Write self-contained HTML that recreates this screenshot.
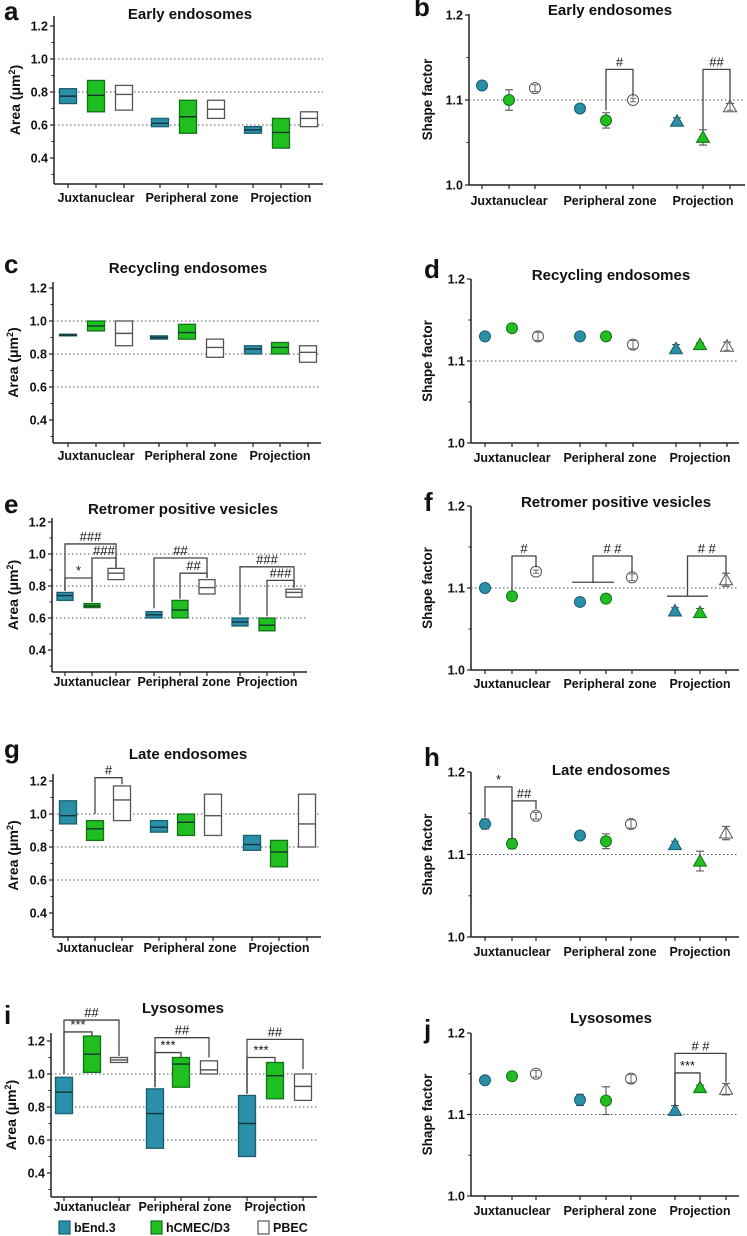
<!DOCTYPE html>
<html><head><meta charset="utf-8"><style>
html,body{margin:0;padding:0;background:#fff}
svg{display:block;font-family:"Liberation Sans",Arial,sans-serif}
</style></head><body>
<svg id="fig" width="747" height="1236" viewBox="0 0 747 1236" xmlns="http://www.w3.org/2000/svg"></svg>
<script>
const categories = ['Juxtanuclear','Peripheral zone','Projection'];
const seriesNames = ['bEnd.3','hCMEC/D3','PBEC'];
const areaTicks = [0.4,0.6,0.8,1.0,1.2];
const areaTickLabels = ['0.4','0.6','0.8','1.0','1.2'];
const shapeTicks = [1.0,1.1,1.2];
const shapeTickLabels = ['1.0','1.1','1.2'];

// Area box data (low, median, high), order: J(b,h,P), P(b,h,P), Pr(b,h,P)
const aLow = [0.73,0.68,0.69, 0.59,0.55,0.64, 0.55,0.46,0.59];
const aMed = [0.775,0.78,0.785, 0.61,0.65,0.695, 0.57,0.555,0.64];
const aHigh = [0.82,0.87,0.84, 0.64,0.75,0.75, 0.59,0.64,0.68];
const cLow = [0.91,0.94,0.85, 0.89,0.89,0.78, 0.80,0.80,0.75];
const cMed = [0.915,0.97,0.925, 0.90,0.93,0.84, 0.83,0.84,0.81];
const cHigh = [0.92,1.0,1.0, 0.91,0.98,0.89, 0.85,0.87,0.85];
const eLow = [0.71,0.665,0.84, 0.60,0.60,0.75, 0.55,0.52,0.73];
const eMed = [0.74,0.675,0.88, 0.62,0.65,0.79, 0.575,0.555,0.76];
const eHigh = [0.76,0.69,0.91, 0.64,0.71,0.84, 0.60,0.60,0.78];
const gLow = [0.94,0.84,0.96, 0.89,0.87,0.87, 0.78,0.68,0.80];
const gMed = [0.99,0.91,1.085, 0.92,0.95,0.99, 0.815,0.77,0.94];
const gHigh = [1.08,0.96,1.17, 0.96,1.0,1.12, 0.87,0.84,1.12];
const iLow = [0.76,1.01,1.07, 0.55,0.92,1.0, 0.50,0.85,0.84];
const iMed = [0.89,1.12,1.085, 0.76,1.06,1.025, 0.70,0.99,0.925];
const iHigh = [0.98,1.23,1.10, 0.91,1.10,1.08, 0.87,1.07,1.0];

// Shape factor means and errors
const bMean = [1.117,1.100,1.114, 1.090,1.076,1.100, 1.075,1.056,1.092];
const bErr = [0.003,0.012,0.004, 0.002,0.009,0.002, 0.004,0.009,0.004];
const dMean = [1.130,1.140,1.130, 1.130,1.130,1.120, 1.115,1.120,1.118];
const dErr = [0.002,0.002,0.005, 0.002,0.002,0.005, 0.005,0.002,0.005];
const fMean = [1.100,1.090,1.120, 1.083,1.087,1.113, 1.072,1.070,1.110];
const fErr = [0.002,0.002,0.002, 0.003,0.003,0.004, 0.004,0.005,0.008];
const hMean = [1.137,1.113,1.147, 1.123,1.116,1.137, 1.112,1.092,1.126];
const hErr = [0.006,0.006,0.004, 0.003,0.009,0.005, 0.004,0.012,0.008];
const jMean = [1.142,1.147,1.150, 1.118,1.117,1.144, 1.105,1.133,1.131];
const jErr = [0.003,0.003,0.004, 0.007,0.017,0.005, 0.006,0.003,0.007];

// Brackets: [fromIdx, toIdx, barValue, leftEnd, rightEnd, label]
const bBr = [[4,5,1.136,1.088,1.104,'#'],[7,8,1.136,1.065,1.097,'##']];
const eBr = [[0,2,1.063,0.77,0.91,'###'],[0,1,0.85,0.77,0.70,'*'],[1,2,0.975,0.70,0.92,'###'],
             [3,5,0.975,0.66,0.85,'##'],[4,5,0.88,0.72,0.85,'##'],
             [6,8,0.92,0.62,0.79,'###'],[7,8,0.835,0.61,0.79,'###']];
const fBr = [[1,2,1.139,1.097,1.125,'#'],[3.5,5,1.139,1.107,1.118,'# #'],[6.5,8,1.139,1.090,1.118,'# #']];
const fBase = [[3,4,1.107],[6,7,1.090]];
const gBr = [[1,2,1.22,1.0,1.18,'#']];
const hBr = [[0,1,1.182,1.145,1.12,'*'],[1,2,1.165,1.12,1.155,'##']];
const iBr = [[0,2,1.327,1.0,1.11,'##'],[0,1,1.255,1.0,1.23,'***'],
             [3,5,1.22,0.92,1.10,'##'],[3,4,1.13,0.92,1.10,'***'],
             [6,8,1.21,0.88,1.03,'##'],[6,7,1.10,0.88,1.07,'***']];
const jBr = [[6,8,1.175,1.11,1.14,'# #'],[6,7,1.151,1.11,1.138,'***']];

const svg = document.getElementById('fig');
const NS = 'http://www.w3.org/2000/svg';
const FILL = ['#2a8fa9','#1fbf1f','#ffffff'];
const STROKE = ['#1b5d6e','#16711a','#555555'];
function mk(tag, attrs, parent){
  const e = document.createElementNS(NS, tag);
  for (const k in attrs) e.setAttribute(k, attrs[k]);
  (parent||svg).appendChild(e); return e;
}
function txt(s, x, y, size, parent, anchor, extra){
  const t = mk('text', Object.assign({x:x, y:y, 'font-size':size, 'font-weight':'bold', 'text-anchor':anchor||'middle', fill:'#111'}, extra||{}), parent);
  t.textContent = s; return t;
}

function axes(g, cfg, yv, ticks, tickLabels, grids, minor, isArea){
  const yB = cfg.bottom;
  mk('line',{x1:cfg.ax,y1:cfg.top,x2:cfg.ax,y2:yB,stroke:'#222','stroke-width':1.5},g);
  mk('line',{x1:cfg.ax,y1:yB,x2:cfg.right,y2:yB,stroke:'#222','stroke-width':1.5},g);
  grids.forEach(v=>{
    const gl = mk('line',{x1:cfg.ax,y1:yv(v),x2:cfg.right,y2:yv(v),stroke:'#555','stroke-width':1,'stroke-dasharray':'1.5,2.5'},g);
    
    
  });
  ticks.forEach((v,i)=>{
    mk('line',{x1:cfg.ax-4,y1:yv(v),x2:cfg.ax,y2:yv(v),stroke:'#222','stroke-width':1.2},g);
    const t = txt(tickLabels[i], cfg.ax-6, yv(v)+4.5, 12.5, g, 'end');
    
    
  });
  minor.forEach(v=>{
    mk('line',{x1:cfg.ax-2.5,y1:yv(v),x2:cfg.ax,y2:yv(v),stroke:'#222','stroke-width':1},g);
  });
  cfg.xs.forEach(x=>{
    mk('line',{x1:x,y1:yB,x2:x,y2:yB+4,stroke:'#222','stroke-width':1.2},g);
  });
  categories.forEach((c,i)=>{
    const t = txt(c, cfg.xs[i*3+1]+(i==1?4:0), cfg.lab, 12.5, g);
    
    
  });
  const tt = txt(cfg.title, cfg.tx, cfg.ty+5, 15, g);
  
  
  const lt = txt(cfg.letter, cfg.lx, cfg.ly+8, 26, g, 'start');
  
  
  const ymid = (cfg.top+yB)/2;
  const yl = mk('text',{x:0,y:0,'font-size':isArea?14:13.5,'font-weight':'bold','text-anchor':'middle',fill:'#111',transform:`translate(${cfg.ylx},${ymid}) rotate(-90)`},g);
  
  
  if (isArea){ yl.innerHTML = 'Area (μm<tspan dy="-5" font-size="9">2</tspan><tspan dy="5">)</tspan>'; }
  else yl.textContent = 'Shape factor';
}

function brackets(g, cfg, yv, br, base){
  (base||[]).forEach(b=>{
    const l = mk('line',{x1:cfg.xs[b[0]]-8,y1:yv(b[2]),x2:cfg.xs[b[1]]+8,y2:yv(b[2]),stroke:'#444','stroke-width':1.3},g);
    
    
  });
  br.forEach(b=>{
    const xAt = i => { const f=Math.floor(i); return f===i?cfg.xs[i]:(cfg.xs[f]+cfg.xs[f+1])/2; };
    const x1 = xAt(b[0]), x2 = xAt(b[1]);
    const p = mk('path',{d:`M${x1},${yv(b[3])}V${yv(b[2])}H${x2}V${yv(b[4])}`,fill:'none',stroke:'#444','stroke-width':1.3},g);
    
    
    const t = txt(b[5], (x1+x2)/2, yv(b[2])-3, 13, g, 'middle', {'font-weight':'normal'});
    
    
  });
}

function areaPanel(cfg, lo, md, hi, br){
  const g = mk('g',{});
  
  
  const yv = v => cfg.p10 + (v-1.0)*(cfg.p08-cfg.p10)/(-0.2);
  axes(g, cfg, yv, areaTicks, areaTickLabels, [0.6,0.8,1.0], [0.3,0.5,0.7,0.9,1.1], true);
  const w = cfg.bw;
  for (let i=0;i<9;i++){
    const s = i%3, x = cfg.xs[i];
    const r = mk('rect',{x:x-w/2,y:yv(hi[i]),width:w,height:Math.max(1.5,yv(lo[i])-yv(hi[i])),fill:FILL[s],stroke:STROKE[s],'stroke-width':1.3},g);
    
    
    const m = mk('line',{x1:x-w/2,y1:yv(md[i]),x2:x+w/2,y2:yv(md[i]),stroke:s==2?'#555':'#133','stroke-width':1.4},g);
    
    
  }
  brackets(g, cfg, yv, br||[]);
}

function shapePanel(cfg, mean, err, br, base){
  const g = mk('g',{});
  
  
  const yv = v => cfg.p10 + (v-1.0)*(cfg.p12-cfg.p10)/0.2;
  axes(g, cfg, yv, shapeTicks, shapeTickLabels, [1.1], [1.05,1.15], false);
  for (let i=0;i<9;i++){
    const s = i%3, x = cfg.xs[i], y = yv(mean[i]);
    const e1 = yv(mean[i]+err[i]), e2 = yv(mean[i]-err[i]);
    mk('path',{d:`M${x},${e1}V${e2}M${x-4},${e1}H${x+4}M${x-4},${e2}H${x+4}`,stroke:'#555','stroke-width':1.1,fill:'none'},g);
    let mark;
    if (i>=6) mark = mk('path',{d:`M${x},${y-6.5}L${x+6.5},${y+5}L${x-6.5},${y+5}Z`,fill:FILL[s],stroke:STROKE[s],'stroke-width':1},g);
    else mark = mk('circle',{cx:x,cy:y,r:5.5,fill:FILL[s],stroke:STROKE[s],'stroke-width':1},g);
    
    
    if (s==2) mk('path',{d:`M${x},${e1}V${e2}M${x-3},${e1}H${x+3}M${x-3},${e2}H${x+3}`,stroke:'#666','stroke-width':1,fill:'none'},g);
  }
  brackets(g, cfg, yv, br||[], base);
}

areaPanel({letter:'a',title:'Early endosomes',tx:190,ty:14,lx:4,ly:12,ax:54,right:323,top:16,bottom:184,p10:59,p08:92,lab:202,ylx:20,bw:17,
  xs:[68,96,124,160,188,216,253,281,309]}, aLow,aMed,aHigh,[]);
shapePanel({letter:'b',title:'Early endosomes',tx:610,ty:10,lx:414,ly:8,ax:469,right:745,top:14,bottom:185,p10:185,p12:15,lab:205,ylx:432,
  xs:[482,509,535,580,606,633,677,703,730]}, bMean,bErr,bBr);
areaPanel({letter:'c',title:'Recycling endosomes',tx:188,ty:268,lx:4,ly:265,ax:53,right:321,top:282,bottom:443,p10:321,p08:354,lab:460,ylx:18,bw:17,
  xs:[68,96,124,159,187,215,253,280,308]}, cLow,cMed,cHigh,[]);
shapePanel({letter:'d',title:'Recycling endosomes',tx:611,ty:275,lx:424,ly:270,ax:471,right:739,top:279,bottom:443,p10:443,p12:279,lab:462,ylx:432,
  xs:[485,512,538,580,606,633,676,700,727]}, dMean,dErr,[]);
areaPanel({letter:'e',title:'Retromer positive vesicles',tx:183,ty:509,lx:4,ly:505,ax:52,right:307,top:518,bottom:672,p10:554,p08:586,lab:686,ylx:18,bw:16,
  xs:[65,92,116,154,180,207,240,267,294]}, eLow,eMed,eHigh,eBr);
shapePanel({letter:'f',title:'Retromer positive vesicles',tx:616,ty:502,lx:424,ly:503,ax:471,right:739,top:506,bottom:670,p10:670,p12:506,lab:688,ylx:432,
  xs:[485,512,536,580,606,632,675,700,726]}, fMean,fErr,fBr,fBase);
areaPanel({letter:'g',title:'Late endosomes',tx:188,ty:754,lx:4,ly:750,ax:53,right:321,top:774,bottom:937,p10:814,p08:847,lab:952,ylx:18,bw:17,
  xs:[68,95,122,159,186,213,252,279,307]}, gLow,gMed,gHigh,gBr);
shapePanel({letter:'h',title:'Late endosomes',tx:611,ty:770,lx:424,ly:758,ax:471,right:739,top:772,bottom:937,p10:937,p12:772,lab:956,ylx:432,
  xs:[485,512,536,580,606,631,675,700,726]}, hMean,hErr,hBr);
areaPanel({letter:'i',title:'Lysosomes',tx:183,ty:1008,lx:4,ly:1016,ax:51,right:317,top:1033,bottom:1197,p10:1074,p08:1107,lab:1211,ylx:16,bw:17,
  xs:[64,92,119,155,181,209,247,275,303]}, iLow,iMed,iHigh,iBr);
shapePanel({letter:'j',title:'Lysosomes',tx:611,ty:1018,lx:424,ly:1030,ax:471,right:739,top:1033,bottom:1196,p10:1196,p12:1033,lab:1215,ylx:432,
  xs:[485,512,536,580,606,631,675,700,726]}, jMean,jErr,jBr);

// legend
const legX = [59,151,258];
const leg = mk('g',{});


seriesNames.forEach((n,i)=>{
  const r = mk('rect',{x:legX[i],y:1221,width:11,height:13,fill:FILL[i],stroke:STROKE[i],'stroke-width':1.2},leg);
  
  
  const t = txt(n, legX[i]+15, 1232, 12.5, leg, 'start');
  
  
});
</script>
</body></html>
